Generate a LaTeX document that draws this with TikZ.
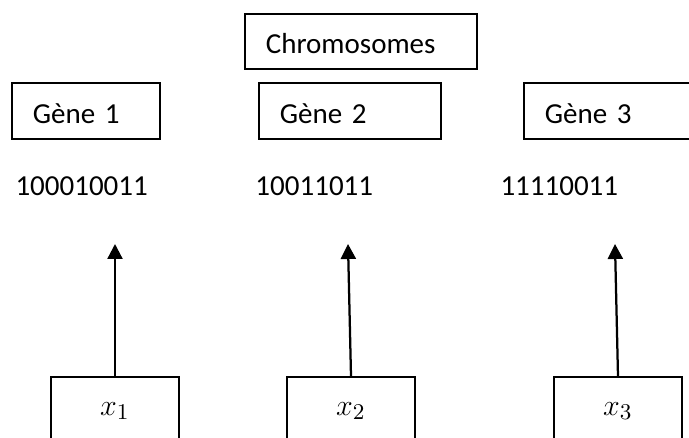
\documentclass[tikz,border=0pt]{standalone}
\usepackage{fontspec}
\setmainfont{Carlito}
\usetikzlibrary{arrows.meta}

\begin{document}
\begin{tikzpicture}[
            x=0.4pt, y=-0.4pt,
            every node/.style={font=\fontsize{11.6}{14}\selectfont}, % Calibri-like text
            box/.style={draw, line width=0.7pt, anchor=north west, align=left, inner xsep=8.4pt, inner ysep=0pt,
                        text height=9.9pt, text depth=0pt}, % Gene boxes
            var/.style={draw, line width=0.7pt, anchor=north, minimum width=51.2pt, minimum height=27.2pt,
                        font=\fontsize{13}{15}\selectfont}, % Variable boxes
            code/.style={anchor=base west, inner sep=0pt}, % Binary strings
            link/.style={line width=0.9pt, -{Triangle[width=6pt,length=6pt]}}
            ]
        \useasboundingbox (0,0) rectangle (689,438);

        % Chromosome on top, its genes below
        \node[box, text width=76pt, minimum height=22pt] (chromo) at (244,13) {Chromosomes};
        \node[box, text width=42.4pt, minimum height=22.4pt] (gene1) at (11,82) {Gène 1};
        \node[box, text width=56pt, minimum height=22.4pt] (gene2) at (258,82) {Gène 2};
        \node[box, text width=56pt, minimum height=22.4pt] (gene3) at (523,82) {Gène 3};

        % Binary coding of each gene
        \node[code] (code1) at (15,196) {100010011};
        \node[code] (code2) at (255,196) {10011011};
        \node[code] (code3) at (500,196) {11110011};

        % Variables
        \node[var] (var1) at (115,376) {$x_1$};
        \node[var] (var2) at (351,376) {$x_2$};
        \node[var] (var3) at (618,376) {$x_3$};

        \coordinate (tip1) at (115,244);
        \coordinate (tip2) at (348,244);
        \coordinate (tip3) at (615,244);
        \draw[link] (var1.north) -- (tip1);
        \draw[link] (var2.north) -- (tip2);
        \draw[link] (var3.north) -- (tip3);

    \end{tikzpicture}
\end{document}
